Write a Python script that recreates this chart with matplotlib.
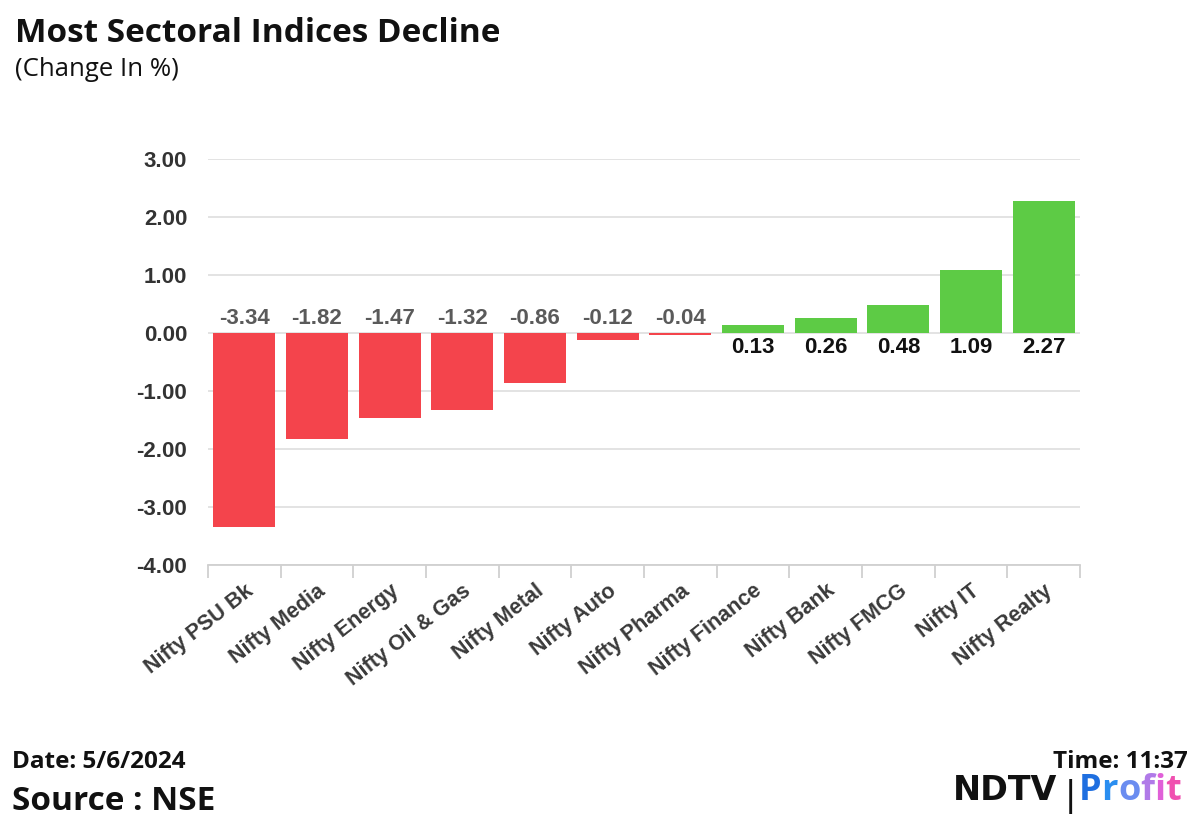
import matplotlib.pyplot as plt
from matplotlib.ticker import FixedLocator

# ---------------------------------------------------------
# Data
# ---------------------------------------------------------
sectors = ["Nifty PSU Bk", "Nifty Media", "Nifty Energy", "Nifty Oil & Gas",
           "Nifty Metal", "Nifty Auto", "Nifty Pharma", "Nifty Finance",
           "Nifty Bank", "Nifty FMCG", "Nifty IT", "Nifty Realty"]
change = [-3.34, -1.82, -1.47, -1.32, -0.86, -0.12, -0.04,
          0.13, 0.26, 0.48, 1.09, 2.27]
y_ticks = [-4, -3, -2, -1, 0, 1, 2, 3]

RED = "#F4444C"
GREEN = "#5DCB45"

# ---------------------------------------------------------
# Figure
# ---------------------------------------------------------
fig = plt.figure(figsize=(12, 8.31), dpi=100)
ax = fig.add_axes([0.1733, 0.3201, 0.7267, 0.4886])

x = list(range(len(sectors)))
colors = [GREEN if v >= 0 else RED for v in change]
ax.bar(x, change, width=0.85, color=colors, zorder=3)

for xi, v in zip(x, change):
    if v < 0:
        ax.annotate(f"{v:.2f}", (xi, 0), xytext=(0, 3), textcoords="offset points",
                    ha="center", va="bottom", fontsize=16, fontweight="bold",
                    color="#5a5a5a", family="Liberation Sans")
    else:
        ax.annotate(f"{v:.2f}", (xi, 0), xytext=(0, -3), textcoords="offset points",
                    ha="center", va="top", fontsize=16, fontweight="bold",
                    color="#111111", family="Liberation Sans")

ax.set_xlim(-0.5, len(sectors) - 0.5)
ax.set_ylim(-4, 3)
ax.set_yticks(y_ticks)
ax.set_yticklabels([f"{t:.2f}" for t in y_ticks], fontsize=16, fontweight="bold",
                   color="#333333", family="Liberation Sans")
ax.yaxis.grid(True, color="#e0e0e0", lw=1.3, zorder=0)
ax.tick_params(axis="y", length=0, pad=15)

ax.set_xticks(x)
ax.set_xticklabels(sectors, rotation=38, ha="right", rotation_mode="anchor",
                   fontsize=15.5, fontweight="bold", color="#3a3a3a",
                   family="Liberation Sans")
ax.tick_params(axis="x", which="major", length=0, pad=11)
ax.xaxis.set_minor_locator(FixedLocator([i - 0.5 for i in range(len(sectors) + 1)]))
ax.tick_params(axis="x", which="minor", length=9, color="#d0d0d0", width=1.3)

for s in ["top", "right", "left"]:
    ax.spines[s].set_visible(False)
ax.spines["bottom"].set_color("#d0d0d0")
ax.spines["bottom"].set_linewidth(1.3)

# ---------------------------------------------------------
# Header / footer
# ---------------------------------------------------------
fig.text(0.0125, 0.949, "Most Sectoral Indices Decline", fontsize=24, fontweight="bold",
         family="Open Sans", color="#111111", va="baseline")
fig.text(0.0125, 0.908, "(Change In %)", fontsize=18.5, family="Open Sans",
         color="#111111", va="baseline")
fig.text(0.01, 0.076, "Date: 5/6/2024", fontsize=17.5, fontweight="bold",
         family="Open Sans", color="#111111", va="baseline")
fig.text(0.01, 0.025, "Source : NSE", fontsize=24, fontweight="bold",
         family="Open Sans", color="#111111", va="baseline")
fig.text(0.99, 0.076, "Time: 11:37", fontsize=17.5, fontweight="bold",
         family="Open Sans", color="#111111", va="baseline", ha="right")

# logo approximation
fig.text(0.794, 0.037, "NDTV", fontsize=24, fontweight="heavy", family="DejaVu Sans",
         color="#111111", va="baseline")
fig.text(0.888, 0.030, "|", fontsize=26, family="Liberation Sans", color="#111111",
         va="baseline")
logo_colors = ["#1f6fe0", "#2a8ef0", "#6a8cf0", "#b07ae8", "#e060d8", "#f050b0"]
xpos = 0.899
for ch, c in zip("Profit", logo_colors):
    t = fig.text(xpos, 0.037, ch, fontsize=26, fontweight="bold", family="Open Sans",
                 color=c, va="baseline")
    fig.canvas.draw()
    bb = t.get_window_extent()
    xpos += bb.width / fig.bbox.width

fig.savefig("out.png", dpi=100)
